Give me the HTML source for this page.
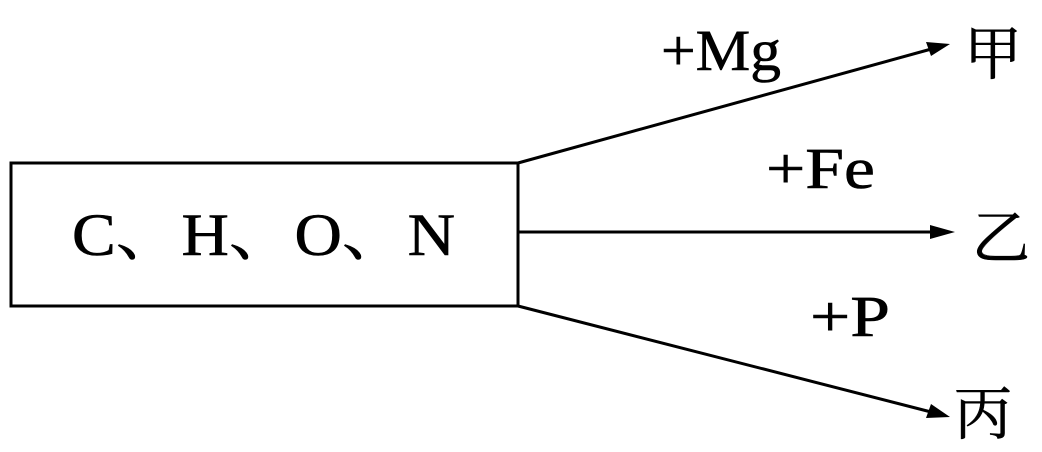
<!DOCTYPE html>
<html><head><meta charset="utf-8"><style>
html,body{margin:0;padding:0;background:#fff;}
svg{display:block;}
text{font-family:"Liberation Serif","Noto Serif CJK SC",serif;fill:#000;stroke:#000;stroke-width:0.6;}
</style></head><body>
<svg width="1042" height="452" viewBox="0 0 1042 452" xmlns="http://www.w3.org/2000/svg">
<rect x="11" y="163" width="507" height="143" fill="none" stroke="#000" stroke-width="3"/>
<text x="72" y="255" font-size="60" textLength="383" lengthAdjust="spacingAndGlyphs">C、H、O、N</text>
<g stroke="#000" stroke-width="3" fill="none">
<line x1="518" y1="163" x2="935" y2="48"/>
<line x1="518" y1="232" x2="940" y2="232"/>
<line x1="518" y1="306" x2="935" y2="413"/>
</g>
<g fill="#000">
<polygon points="950,44 926,42 931,56"/>
<polygon points="955,232 930,225 930,239"/>
<polygon points="950,417 931,404 926,418"/>
</g>
<text x="661" y="70" font-size="58" textLength="120" lengthAdjust="spacingAndGlyphs">+Mg</text>
<text x="766" y="188" font-size="58" textLength="109" lengthAdjust="spacingAndGlyphs">+Fe</text>
<text x="810" y="336" font-size="58" textLength="80" lengthAdjust="spacingAndGlyphs">+P</text>
<text x="964" y="74" font-size="58" font-family="Noto Serif CJK SC, serif">甲</text>
<text x="972" y="258" font-size="58" font-family="Noto Serif CJK SC, serif">乙</text>
<text x="954" y="434" font-size="58" font-family="Noto Serif CJK SC, serif">丙</text>
</svg>
</body></html>
